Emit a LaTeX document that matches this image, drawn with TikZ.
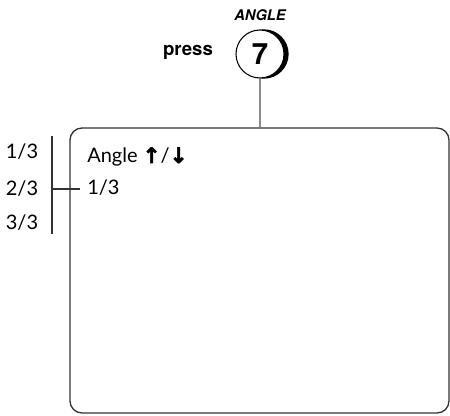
\documentclass[tikz,border=0pt]{standalone}
\usepackage{fontspec}
\setmainfont{Lato}
\setsansfont{TeX Gyre Heros}
\newfontfamily\arrowfont[FakeBold=3]{DejaVu Sans Bold}
\tikzset{every node/.style={inner sep=0pt},
  keybtn/.style={shape=circle,draw,fill=white,line width=0.8pt,minimum size=36pt,font=\sffamily\bfseries\fontsize{22}{22}\selectfont},
  keyname/.style={font=\sffamily\bfseries\itshape\fontsize{11}{11}\selectfont},
  presstext/.style={font=\sffamily\bfseries\fontsize{14}{14}\selectfont},
  screenbox/.style={draw=black!80,line width=1pt,rounded corners=9pt,minimum width=284.25pt,minimum height=213.75pt},
  disptext/.style={anchor=west,font=\fontsize{15}{17}\selectfont},
  stepnum/.style={font=\fontsize{15}{17}\selectfont},
  wire/.style={draw=black!45,line width=1.5pt}}
\newcommand{\arr}[1]{{\arrowfont\fontsize{16}{16}\selectfont #1}}

\begin{document}
\begin{tikzpicture}[x=0.75pt,y=-0.75pt]
      \useasboundingbox (0,0) rectangle (450,415);
      \node[screenbox] (screen) at (259.5,270.5) {};
      \coordinate (keyc) at (260,54);
      % crescent on the key
      \fill ([xshift=3pt]keyc) circle (18.5pt);
      \node[keybtn] (key) at (keyc) {7};
      \node[keyname] (angle) at (260,15.5) {ANGLE};
      \node[presstext] (press) at (188,52) {press};
      \node[disptext] (title) at (87,157) {Angle \arr{↑}/\arr{↓}};
      \node[disptext] (value) at (87,188) {1/3};
      \node[stepnum] (s1) at (22,152) {1/3};
      \node[stepnum] (s2) at (22,189) {2/3};
      \node[stepnum] (s3) at (22,223) {3/3};
      \coordinate (top) at (52,136);
      \coordinate (bot) at (52,234);
      \coordinate (mid) at (52,189);
      \coordinate (tick) at (80,189);

\draw[wire] (key.south) -- (key.south |- screen.north);
\draw[black!80,line width=0.8pt] (top) -- (bot);
\draw[black!80,line width=0.8pt] (mid) -- (tick);
    \end{tikzpicture}
\end{document}
